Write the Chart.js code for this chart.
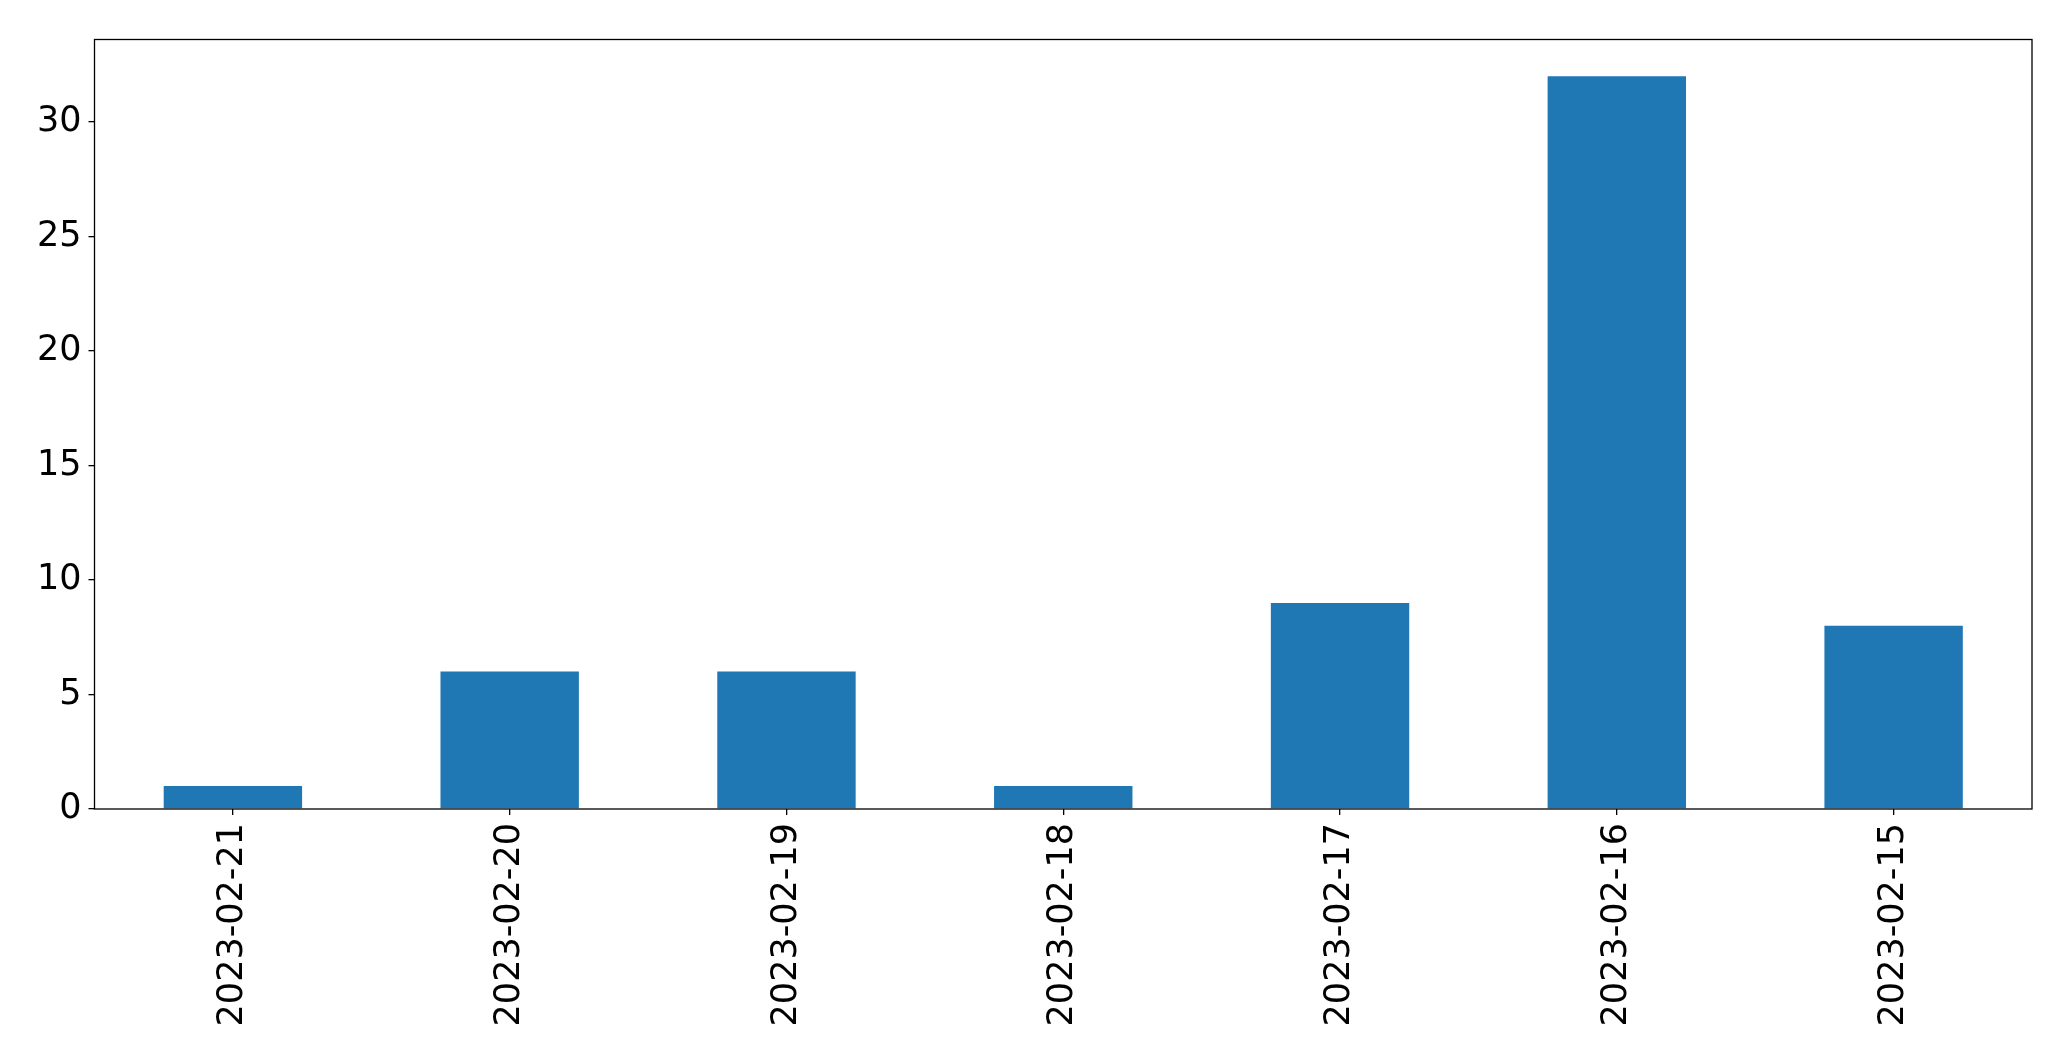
<!DOCTYPE html>
<html>
<head>
<meta charset="utf-8">
<script src="https://cdn.jsdelivr.net/npm/chart.js@4.4.1/dist/chart.umd.min.js"></script>
<style>
html,body{margin:0;padding:0;background:#fff;}
#wrap{width:2071px;height:1061px;}
</style>
</head>
<body>
<div id="wrap"><canvas id="c" width="2071" height="1061"></canvas></div>
<script>
const categories = ["2023-02-21","2023-02-20","2023-02-19","2023-02-18","2023-02-17","2023-02-16","2023-02-15"];
const counts = [1, 6, 6, 1, 9, 32, 8];
const yTickValues = [0, 5, 10, 15, 20, 25, 30];

const frame = {
  id: 'frame',
  afterDraw(chart) {
    const a = chart.chartArea, ctx = chart.ctx;
    ctx.save();
    ctx.strokeStyle = '#000';
    ctx.lineWidth = 1.3;
    ctx.strokeRect(a.left, a.top, a.right - a.left, a.bottom - a.top);
    ctx.restore();
  }
};

const font = { family: "'DejaVu Sans', sans-serif", size: 35 };

new Chart(document.getElementById('c'), {
  type: 'bar',
  data: {
    labels: categories,
    datasets: [{
      data: counts,
      backgroundColor: '#1f77b4',
      borderWidth: 0,
      barPercentage: 0.5,
      categoryPercentage: 1.0
    }]
  },
  options: {
    responsive: false,
    animation: false,
    events: [],
    layout: { padding: { top: 39.5, right: 39, bottom: 0, left: 0 } },
    plugins: { legend: { display: false }, tooltip: { enabled: false } },
    scales: {
      x: {
        offset: true,
        grid: { display: true, offset: false, drawOnChartArea: false, tickLength: 6, color: '#000', lineWidth: 1.3 },
        border: { display: false },
        ticks: { color: '#000', font: font, minRotation: 90, maxRotation: 90, padding: 8, autoSkip: false },
        afterFit(s) { s.height = 252; }
      },
      y: {
        min: 0,
        max: 33.6,
        grid: { display: true, drawOnChartArea: false, tickLength: 6, color: '#000', lineWidth: 1.3 },
        border: { display: false },
        ticks: { color: '#000', font: font, padding: 7, stepSize: 5 },
        afterBuildTicks(s) { s.ticks = yTickValues.map(v => ({ value: v })); },
        afterFit(s) { s.width = 94.5; }
      }
    }
  },
  plugins: [frame]
});
</script>
</body>
</html>
